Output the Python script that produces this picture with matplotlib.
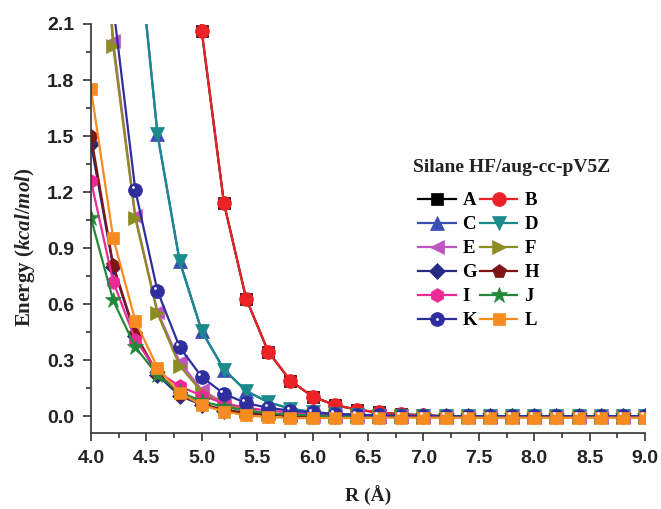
import numpy as np
import matplotlib
matplotlib.use("Agg")
import matplotlib.pyplot as plt
from matplotlib.ticker import MultipleLocator
from matplotlib.transforms import ScaledTranslation
from matplotlib.legend_handler import HandlerTuple

nan = np.nan
R = [4.0, 4.2, 4.4, 4.6, 4.8, 5.0, 5.2, 5.4, 5.6, 5.8, 6.0, 6.2, 6.4,
     6.6, 6.8, 7.0, 7.2, 7.4, 7.6, 7.8, 8.0, 8.2, 8.4, 8.6, 8.8, 9.0]

tail = [0.0] * 10
A = [nan, nan, nan, nan, 3.70, 2.06, 1.14, 0.63, 0.345, 0.19, 0.105, 0.06, 0.035,
     0.02, 0.01, 0.005] + tail
B = list(A)
C = [nan, nan, 2.69, 1.51, 0.83, 0.455, 0.25, 0.135, 0.075, 0.04, 0.022, 0.012, 0.006,
     0.003, 0.0, 0.0] + tail
D = list(C)
E = [3.70, 2.01, 1.07, 0.56, 0.29, 0.14, 0.07, 0.035, 0.015, 0.005, 0.0, 0.0, 0.0,
     0.0, 0.0, -0.005] + [-0.005] * 10
F = [3.60, 1.98, 1.06, 0.55, 0.27, 0.13, 0.065, 0.03, 0.012, 0.004, 0.0, 0.0, 0.0,
     0.0, 0.0, -0.005] + [-0.005] * 10
G = [1.46, 0.80, 0.43, 0.22, 0.11, 0.06, 0.03, 0.015, 0.007, 0.003, 0.0, 0.0, 0.0,
     0.0, 0.0, 0.0] + tail
H = [1.50, 0.81, 0.44, 0.23, 0.12, 0.065, 0.035, 0.018, 0.008, 0.004, 0.0, 0.0, 0.0,
     0.0, 0.0, 0.0] + tail
I = [1.26, 0.72, 0.41, 0.24, 0.16, 0.11, 0.07, 0.045, 0.03, 0.02, 0.01, 0.005, 0.0,
     0.0, 0.0, 0.0] + tail
J = [1.06, 0.62, 0.37, 0.22, 0.13, 0.08, 0.05, 0.03, 0.015, 0.008, 0.004, 0.0, 0.0,
     0.0, 0.0, 0.0] + tail
K = [nan, 2.20, 1.21, 0.67, 0.37, 0.21, 0.12, 0.07, 0.045, 0.03, 0.02, 0.012, 0.007,
     0.004, 0.002, 0.0] + tail
L = [1.75, 0.955, 0.51, 0.26, 0.125, 0.06, 0.025, 0.005, -0.005, -0.01, -0.01, -0.01, -0.01,
     -0.008, -0.008, -0.008] + [-0.008] * 10

names = ["A", "B", "C", "D", "E", "F", "G", "H", "I", "J", "K", "L"]
series = [A, B, C, D, E, F, G, H, I, J, K, L]
colors = ["#000000", "#ec2227", "#3a4db5", "#1a8a8c", "#c054c0", "#8c8c22",
          "#272a82", "#7e1618", "#ec2a97", "#22893a", "#2e2e9e", "#f68b1f"]
markers = ["s", "o", "^", "v", "<", ">", "D", "p", "h", "*", "o", "s"]
msizes = [8.5, 10, 10, 10, 10, 10, 8.5, 10, 10, 12, 10, 8.5]

xticks = [4.0, 4.5, 5.0, 5.5, 6.0, 6.5, 7.0, 7.5, 8.0, 8.5, 9.0]
yticks = [0.0, 0.3, 0.6, 0.9, 1.2, 1.5, 1.8, 2.1]

plt.rcParams['mathtext.fontset'] = 'custom'
plt.rcParams['mathtext.it'] = 'Liberation Serif:italic:bold'
plt.rcParams['mathtext.rm'] = 'Liberation Serif:bold'

fig = plt.figure(figsize=(6.61, 5.09), dpi=100)
ax = fig.add_axes([91/661, 1 - 433/509, (645 - 91)/661, (433 - 24)/509])

handles = []
for name, ys, c, m, ms in zip(names, series, colors, markers, msizes):
    h, = ax.plot(R, ys, color=c, marker=m, markersize=ms, linewidth=1.6,
                 markeredgecolor=c, markeredgewidth=0.5, label=name)
    handles.append(h)

# glint on the K spheres
glint_tr = ax.transData + ScaledTranslation(-2.0/72, 2.0/72, fig.dpi_scale_trans)
glint, = ax.plot(R, K, ls="none", marker="o", ms=2.0, color="white",
                 markeredgewidth=0, transform=glint_tr)

ax.set_xlim(4.0, 9.0)
ax.set_ylim(-0.09, 2.1)
ax.set_xticks(xticks)
ax.set_yticks(yticks)
ax.set_xticklabels([f"{v:.1f}" for v in xticks])
ax.set_yticklabels([f"{v:.1f}" for v in yticks])
ax.xaxis.set_minor_locator(MultipleLocator(0.25))
ax.yaxis.set_minor_locator(MultipleLocator(0.15))
for s in ["top", "right"]:
    ax.spines[s].set_visible(False)
for s in ["left", "bottom"]:
    ax.spines[s].set_color("#333333")
    ax.spines[s].set_linewidth(1.2)
ax.tick_params(which="major", direction="out", length=6, width=1.2, color="#333333",
               labelsize=14, pad=6)
ax.tick_params(which="minor", direction="out", length=3.5, width=1.2, color="#333333")
for lab in ax.get_xticklabels() + ax.get_yticklabels():
    lab.set_fontfamily("Liberation Sans")
    lab.set_fontweight("bold")
    lab.set_color("#222222")

ax.set_xlabel("R (Å)", fontfamily="Liberation Serif", fontweight="bold", fontsize=14,
              labelpad=14, color="#222222")
ax.set_ylabel(r"Energy ($\mathit{kcal/mol}$)", fontfamily="Liberation Serif",
              fontweight="bold", fontsize=15, color="#222222")
ax.yaxis.set_label_coords((37 - 91) / 554, (433 - 247) / 409)

fig.text(413/661, 1 - 167/509, "Silane HF/aug-cc-pV5Z", fontfamily="Liberation Serif",
         fontweight="bold", fontsize=14, ha="left", va="center", color="#222222")

# legend ordered row-wise: A B / C D / ...
order = [0, 2, 4, 6, 8, 10, 1, 3, 5, 7, 9, 11]
leg_handles = []
for i in order:
    leg_handles.append((handles[i], glint) if names[i] == "K" else handles[i])
leg = fig.legend(leg_handles, [names[i] for i in order], ncol=2,
                 loc="upper left", bbox_to_anchor=(418/661, 1 - 192/509),
                 frameon=False, borderpad=0, borderaxespad=0,
                 prop={"family": "Liberation Serif", "weight": "bold", "size": 13.5},
                 handlelength=2.0, handletextpad=0.37, columnspacing=0.15,
                 labelspacing=0.37, handler_map={tuple: HandlerTuple(ndivide=1)})

fig.savefig("out.png", dpi=100)
